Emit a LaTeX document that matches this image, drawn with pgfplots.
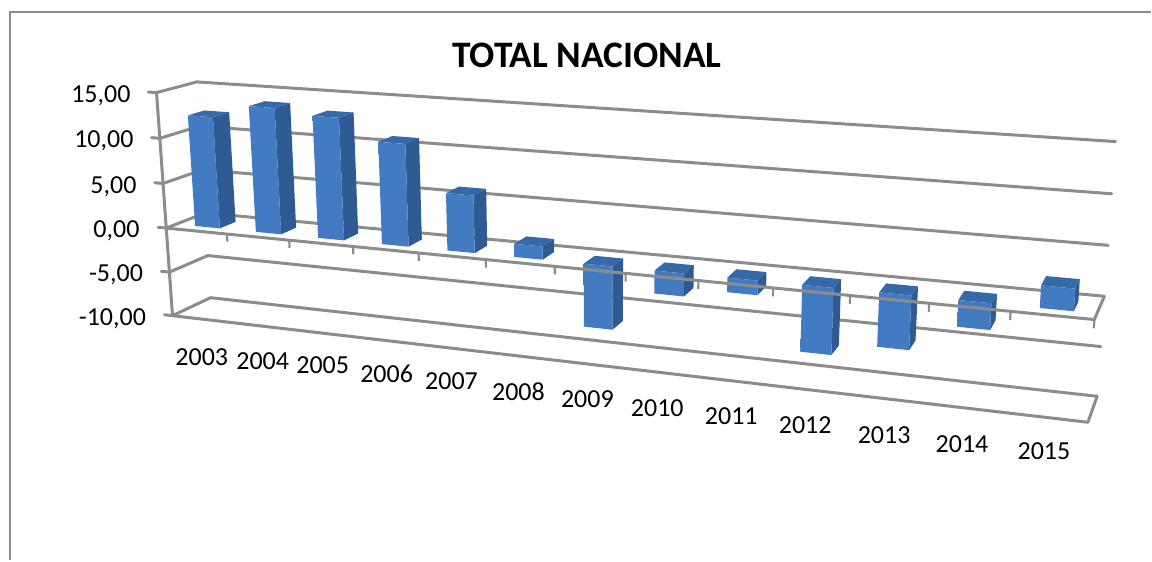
\documentclass[border=0pt]{standalone}
\usepackage{pgfplots}
\usepackage{pgfplotstable}
\usepackage{fontspec}
\setmainfont{Carlito}
\pgfplotsset{compat=1.18}

\definecolor{gridgray}{HTML}{8C8C8C}
\definecolor{barfront}{HTML}{4C88D0}
\definecolor{barfrontedge}{HTML}{437BC2}
\definecolor{barside}{HTML}{2F5A92}
\definecolor{bartop}{HTML}{3669A8}

% Unit box of one column: a across, b in depth, c from base to end of the value
\pgfplotstableread{
a b c
0 0 0
1 0 0
1 0 1
0 0 1
}\facefront
\pgfplotstableread{
a b c
1 0 0
1 1 0
1 1 1
1 0 1
}\faceside
\pgfplotstableread{
a b c
0 0 1
1 0 1
1 1 1
0 1 1
}\facetop

% Chart box: u along the categories, d in depth, z the value axis
\tikzset{declare function={
  warpS(\u)=\u*0.84/(1-0.16*\u);
  warpT(\z)=((\z+10)/25)*0.97/(1-0.03*((\z+10)/25));
  mapx(\s,\d,\t)=(1-\t)*((1-\d)*((1-\s)*172.7+\s*1089.0)+\d*((1-\s)*210.7+\s*1098.3))
                +\t*((1-\d)*((1-\s)*156.7+\s*1105.5)+\d*((1-\s)*197.0+\s*1116.7));
  mapy(\s,\d,\t)=(1-\t)*((1-\d)*((1-\s)*316.0+\s*422.7)+\d*((1-\s)*298.0+\s*396.7))
                +\t*((1-\d)*((1-\s)*92.7+\s*161.0)+\d*((1-\s)*82.0+\s*141.7));
  gx(\u,\d,\z)=mapx(warpS(\u),\d,warpT(\z));
  gy(\u,\d,\z)=mapy(warpS(\u),\d,warpT(\z));
  bu(\i,\a)=(\i+0.52+(\a-0.5)*0.41)/13;
  bd(\b)=0.26+\b*0.42;
  bz(\c,\v)=min(0,\v)+\c*abs(\v);
}}

\pgfplotsset{
  boxline/.style={draw=gridgray,line width=1.5pt,mark=none,line cap=round,line join=round},
  table/boxtable/.style={x expr={gx(\thisrow{u},\thisrow{d},\thisrow{z})},
                         y expr={gy(\thisrow{u},\thisrow{d},\thisrow{z})}},
}

% One year's column: #1 is its position, #2 its value
\newcommand{\yearbar}[2]{%
  \addplot[draw=none,mark=none,fill=barside]
    table[x expr={gx(bu(#1,\thisrow{a}),bd(\thisrow{b}),bz(\thisrow{c},#2))},
          y expr={gy(bu(#1,\thisrow{a}),bd(\thisrow{b}),bz(\thisrow{c},#2))}] {\faceside};
  \addplot[draw=none,mark=none,fill=bartop]
    table[x expr={gx(bu(#1,\thisrow{a}),bd(\thisrow{b}),bz(\thisrow{c},#2))},
          y expr={gy(bu(#1,\thisrow{a}),bd(\thisrow{b}),bz(\thisrow{c},#2))}] {\facetop};
  \addplot[draw=none,mark=none,left color=barfrontedge,middle color=barfront,right color=barfrontedge]
    table[x expr={gx(bu(#1,\thisrow{a}),bd(\thisrow{b}),bz(\thisrow{c},#2))},
          y expr={gy(bu(#1,\thisrow{a}),bd(\thisrow{b}),bz(\thisrow{c},#2))}] {\facefront};
}

% Gridline at one level, running along the left wall and the back wall
\newcommand{\levelline}[1]{%
  \addplot[boxline]
    table[x expr={gx(\thisrow{u},\thisrow{d},#1)},y expr={gy(\thisrow{u},\thisrow{d},#1)},row sep=\\]
    {u d\\-0.0105 0\\0 0\\0 1\\1 1\\};
}

\begin{document}
\begin{tikzpicture}
\begin{axis}[
  scale only axis,width=576pt,height=280.5pt,
  xmin=0,xmax=1152,ymin=0,ymax=561,y dir=reverse,
  hide axis,clip=false,
]
% outer frame, open at the right and at the bottom
\addplot[draw=gridgray,line width=1.2pt,mark=none] coordinates {(10,561) (10,12) (1152,12)};

\levelline{15}
\levelline{10}
\levelline{5}
\levelline{0}
\levelline{-5}
\levelline{-10}

% left edge and floor
\addplot[boxline] table[boxtable,row sep=\\] {u d z\\0 0 15\\0 0 -10\\1 0 -10\\1 1 -10\\};

\yearbar{0}{12.35}
\yearbar{1}{13.85}
\yearbar{2}{13.3}
\yearbar{3}{11.05}
\yearbar{4}{6.15}
\yearbar{5}{1.4}
\yearbar{6}{-6.7}
\yearbar{7}{-2.4}
\yearbar{8}{-1.5}
\yearbar{9}{-6.85}
\yearbar{10}{-5.5}
\yearbar{11}{-2.65}
\yearbar{12}{2.2}

% zero line in front of the columns, with its tick marks
\addplot[boxline] table[boxtable,row sep=\\] {u d z\\0 0 0\\1 0 0\\1 1 0\\};
\pgfplotsinvokeforeach{1,...,13}{
  \addplot[draw=gridgray,line width=1.1pt,mark=none]
    table[x expr={gx(#1/13,0,\thisrow{z})},y expr={gy(#1/13,0,\thisrow{z})},row sep=\\]
    {z\\0\\-0.85\\};
}

\path (axis cs:0,0) rectangle (axis cs:1152,561);

\node[font=\fontsize{18.7}{20}\selectfont\bfseries] at (axis cs:587.5,55) {TOTAL NACIONAL};

\begin{scope}[every node/.style={font=\fontsize{13}{15}\selectfont,inner sep=0pt}]
\node[anchor=east] at (axis cs:131,96) {15,00};
\node[anchor=east] at (axis cs:134,141) {10,00};
\node[anchor=east] at (axis cs:137,187) {5,00};
\node[anchor=east] at (axis cs:140,231) {0,00};
\node[anchor=east] at (axis cs:143.5,275) {-5,00};
\node[anchor=east] at (axis cs:146.5,319) {-10,00};
\node at (axis cs:202,358) {2003};
\node at (axis cs:263,362) {2004};
\node at (axis cs:323,366) {2005};
\node at (axis cs:387,374) {2006};
\node at (axis cs:452,382) {2007};
\node at (axis cs:519,392) {2008};
\node at (axis cs:588,400) {2009};
\node at (axis cs:658,409) {2010};
\node at (axis cs:732,417) {2011};
\node at (axis cs:806,426) {2012};
\node at (axis cs:885,436) {2013};
\node at (axis cs:963,445) {2014};
\node at (axis cs:1045,452) {2015};
\end{scope}
\end{axis}
\end{tikzpicture}
\end{document}
